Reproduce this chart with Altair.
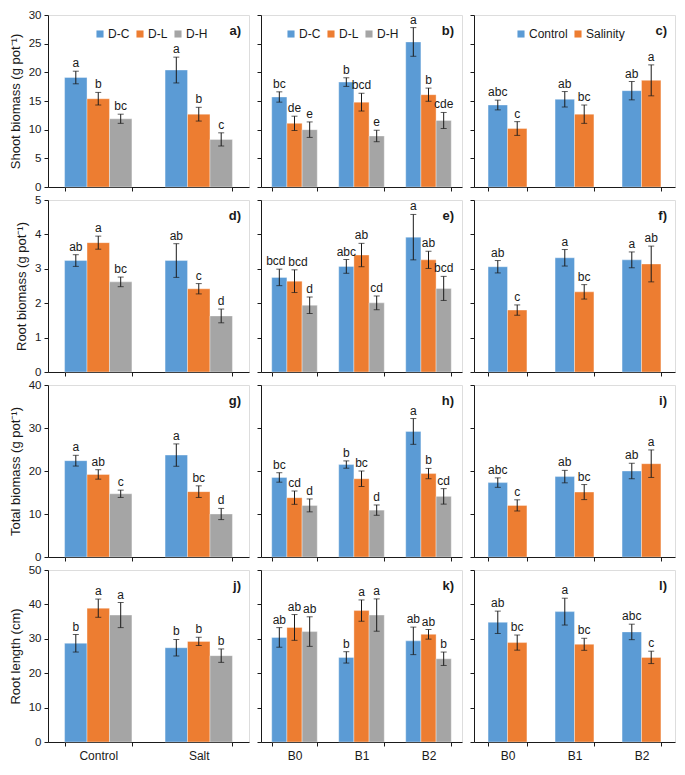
import altair as alt
import pandas as pd

# ---------------- data ----------------
groups_dose = ["Control", "Salt"]
groups_b = ["B0", "B1", "B2"]
series_dose = ["D-C", "D-L", "D-H"]
series_sal = ["Control", "Salinity"]
colors_dose = ["#5B9BD5", "#ED7D31", "#A5A5A5"]
colors_sal = ["#5B9BD5", "#ED7D31"]

# values listed group by group, series within group
a_val = [19.1, 15.4, 11.9, 20.4, 12.7, 8.3]
a_err = [1.1, 1.1, 0.8, 2.25, 1.2, 1.15]
a_let = ["a", "b", "bc", "a", "b", "c"]

b_val = [15.7, 11.1, 10.0, 18.3, 14.8, 8.9, 25.3, 16.1, 11.6]
b_err = [0.9, 1.25, 1.35, 0.75, 1.55, 1.0, 2.5, 1.15, 1.4]
b_let = ["bc", "de", "e", "b", "bcd", "e", "a", "b", "cde"]

c_val = [14.3, 10.2, 15.3, 12.7, 16.8, 18.6]
c_err = [0.85, 1.2, 1.35, 1.6, 1.6, 2.7]
c_let = ["abc", "c", "ab", "bc", "ab", "a"]

d_val = [3.24, 3.76, 2.62, 3.24, 2.42, 1.63]
d_err = [0.17, 0.19, 0.14, 0.49, 0.15, 0.2]
d_let = ["ab", "a", "bc", "ab", "c", "d"]

e_val = [2.75, 2.64, 1.94, 3.07, 3.40, 2.01, 3.92, 3.26, 2.43]
e_err = [0.24, 0.33, 0.24, 0.2, 0.34, 0.2, 0.66, 0.25, 0.35]
e_let = ["bcd", "bcd", "d", "abc", "ab", "cd", "a", "ab", "bcd"]

f_val = [3.06, 1.80, 3.32, 2.33, 3.26, 3.14]
f_err = [0.18, 0.15, 0.24, 0.21, 0.23, 0.52]
f_let = ["ab", "c", "a", "bc", "a", "ab"]

g_val = [22.4, 19.2, 14.7, 23.7, 15.2, 10.0]
g_err = [1.25, 1.1, 0.85, 2.6, 1.35, 1.3]
g_let = ["a", "ab", "c", "a", "bc", "d"]

h_val = [18.5, 13.8, 12.0, 21.5, 18.2, 10.9, 29.2, 19.4, 14.1]
h_err = [1.1, 1.55, 1.5, 0.85, 1.8, 1.2, 3.0, 1.2, 1.8]
h_let = ["bc", "cd", "d", "b", "bc", "d", "a", "b", "cd"]

i_val = [17.3, 12.0, 18.7, 15.1, 20.0, 21.7]
i_err = [1.1, 1.3, 1.45, 1.75, 1.8, 3.2]
i_let = ["abc", "c", "ab", "bc", "ab", "a"]

j_val = [28.7, 38.9, 36.9, 27.4, 29.25, 25.1]
j_err = [2.55, 2.65, 3.65, 2.4, 1.2, 1.95]
j_let = ["b", "a", "a", "b", "b", "b"]

k_val = [30.4, 33.3, 32.1, 24.6, 38.2, 36.9, 29.4, 31.3, 24.2]
k_err = [2.85, 3.75, 4.3, 1.65, 3.1, 4.7, 4.0, 1.4, 1.95]
k_let = ["ab", "ab", "ab", "b", "a", "a", "ab", "ab", "b"]

l_val = [34.8, 28.9, 37.9, 28.4, 32.0, 24.6]
l_err = [3.25, 2.2, 3.9, 1.75, 2.25, 1.8]
l_let = ["ab", "bc", "a", "bc", "abc", "c"]

row_titles = ["Shoot biomass (g pot\u207b\u00b9)", "Root biomass (g pot\u207b\u00b9)",
              "Total biomass (g pot\u207b\u00b9)", "Root length (cm)"]
row_max = [30, 5, 40, 50]
row_step = [5, 1, 10, 10]
tags = ["a)", "b)", "c)", "d)", "e)", "f)", "g)", "h)", "i)", "j)", "k)", "l)"]

panel_data = [
    (a_val, a_err, a_let), (b_val, b_err, b_let), (c_val, c_err, c_let),
    (d_val, d_err, d_let), (e_val, e_err, e_let), (f_val, f_err, f_let),
    (g_val, g_err, g_let), (h_val, h_err, h_let), (i_val, i_err, i_let),
    (j_val, j_err, j_let), (k_val, k_err, k_let), (l_val, l_err, l_let),
]

W = 201
H = 172
FONT = "Liberation Sans"
INK = "#1a1a1a"
LET_SIZE = 12
NUDGE = 3.5


def make_panel(idx):
    row, col = divmod(idx, 3)
    vals, errs, lets = panel_data[idx]
    if col == 0:
        groups, series, colors, ratio, lx = groups_dose, series_dose, colors_dose, 0.67, 46
    elif col == 1:
        groups, series, colors, ratio, lx = groups_b, series_dose, colors_dose, 0.68, 24
    else:
        groups, series, colors, ratio, lx = groups_b, series_sal, colors_sal, 0.58, 41
    ymax = row_max[row]
    ystep = row_step[row]
    band_px = W / len(groups) * ratio
    bar_px = band_px / len(series)

    recs = []
    n = 0
    for g in groups:
        for s in series:
            recs.append(dict(group=g, series=s, value=vals[n],
                             lo=vals[n] - errs[n], hi=vals[n] + errs[n],
                             letter=lets[n], nudge=0))
            n += 1
    # push apart letter labels that would collide with their neighbour
    ns = len(series)
    for gi in range(len(groups)):
        for si in range(ns - 1):
            r1, r2 = recs[gi * ns + si], recs[gi * ns + si + 1]
            dy_px = abs(r1["hi"] - r2["hi"]) * H / ymax
            w_avg = (len(r1["letter"]) + len(r2["letter"])) * 6.5 / 2
            if dy_px < 11 and w_avg + 2 > bar_px:
                r1["nudge"] = -1 if r1["nudge"] == 0 else r1["nudge"]
                r2["nudge"] = 1
    df = pd.DataFrame(recs)
    pad = 1 - ratio

    x = alt.X("group:N", sort=groups,
              scale=alt.Scale(type="band", paddingInner=pad, paddingOuter=pad / 2),
              axis=alt.Axis(title=None, labels=(row == 3), labelAngle=0, tickBand="extent",
                            tickSize=4, labelPadding=4, labelFontSize=12,
                            domainColor=INK, tickColor=INK, labelColor=INK))
    xo = alt.XOffset("series:N", sort=series,
                     scale=alt.Scale(type="band", domain=series, paddingInner=0,
                                     paddingOuter=0, range=[0, band_px]))
    yax = alt.Axis(title=row_titles[row] if col == 0 else None, labels=(col == 0),
                   values=list(range(0, ymax + 1, ystep)), grid=False, tickSize=4,
                   labelPadding=3, labelFontSize=11.5, titleFontSize=13,
                   titleFontWeight="normal", titlePadding=6, domainColor=INK, tickColor=INK,
                   labelColor=INK, titleColor=INK)
    yscale = alt.Scale(domain=[0, ymax], nice=False)

    def Y(field):
        return alt.Y(field, type="quantitative", scale=yscale, axis=yax)

    if row == 0:
        leg = alt.Legend(orient="none", legendX=lx, legendY=13, direction="horizontal",
                         title=None, symbolType="square", symbolSize=50, symbolStrokeWidth=0,
                         labelFontSize=12, labelOffset=2, columnPadding=4, labelColor=INK,
                         labelFont=FONT, padding=0, gridAlign="none")
    else:
        leg = None
    color = alt.Color("series:N", sort=series,
                      scale=alt.Scale(domain=series, range=colors), legend=leg)

    base = alt.Chart(df).encode(x=x, xOffset=xo)
    bars = base.mark_bar(width={"band": 1}, stroke="white", strokeWidth=0.6,
                         strokeOpacity=0.6).encode(y=Y("value"), color=color)
    rule = base.mark_rule(color=INK, strokeWidth=1).encode(y=Y("lo"), y2="hi:Q")
    cap_hi = base.mark_tick(color=INK, size=6, thickness=1).encode(y=Y("hi"))
    cap_lo = base.mark_tick(color=INK, size=6, thickness=1).encode(y=Y("lo"))
    texts = []
    for nv in (-1, 0, 1):
        texts.append(
            base.transform_filter(alt.datum.nudge == nv).mark_text(
                baseline="alphabetic", dy=-4, dx=nv * NUDGE, fontSize=LET_SIZE, font=FONT,
                color=INK).encode(y=Y("hi"), text="letter:N"))
    tag = alt.Chart(pd.DataFrame({"t": [tags[idx]]})).mark_text(
        align="right", baseline="middle", fontSize=13, fontWeight="bold", font=FONT, color=INK
    ).encode(x=alt.value(W - 8), y=alt.value(16), text="t:N")

    return alt.layer(bars, rule, cap_hi, cap_lo, *texts, tag).properties(width=W, height=H)


panels = [make_panel(i) for i in range(12)]

chart = alt.concat(
    *panels, columns=3, spacing={"row": 13, "column": 12}, bounds="flush"
).resolve_scale(
    color="independent", xOffset="independent", x="independent", y="independent"
).resolve_legend(color="independent").configure_view(
    stroke=INK, strokeWidth=1
).configure_scale(
    offsetBandPaddingInner=0, offsetBandPaddingOuter=0
).configure(font=FONT).properties(padding=0)

chart.save("out.html", embed_options={"renderer": "svg", "actions": False})
